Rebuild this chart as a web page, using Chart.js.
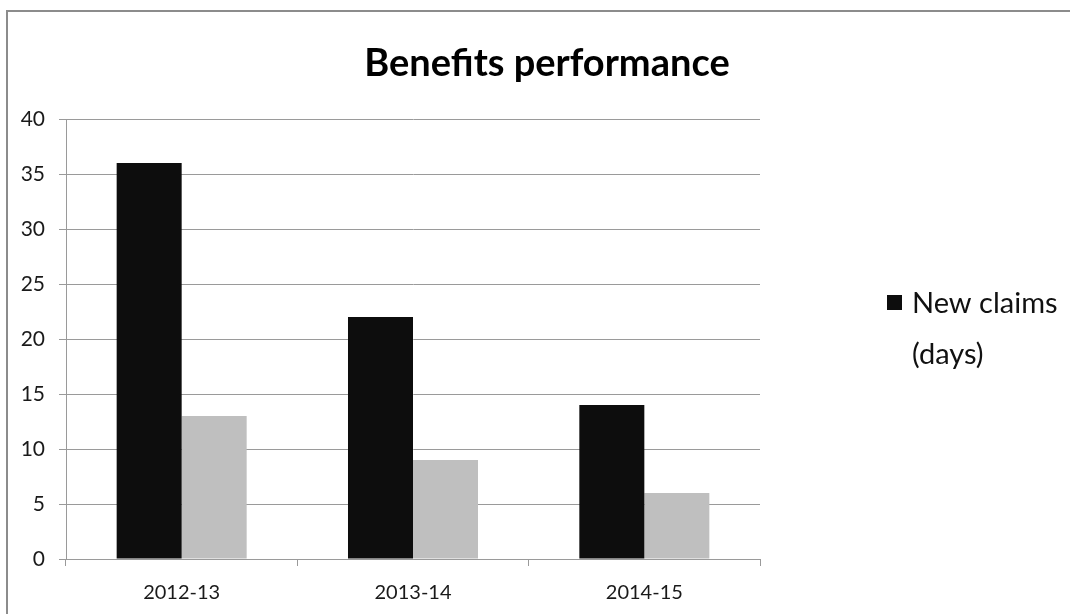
<!DOCTYPE html>
<html>
<head>
<meta charset="utf-8">
<title>Benefits performance</title>
<script src="https://cdn.jsdelivr.net/npm/chart.js@4/dist/chart.umd.min.js"></script>
<style>
  html, body { margin: 0; padding: 0; background: #fff; }
</style>
</head>
<body>
<canvas id="chart" width="1070" height="614"></canvas>
<script>
const categories = ['2012-13', '2013-14', '2014-15'];
const newClaims = [36, 22, 14];
const otherSeries = [13, 9, 6];
const titleText = 'Benefits performance';
const legendLines = ['New claims', '(days)'];

const FONT = 'Lato, "Open Sans", sans-serif';
const GRID = '#9a9a9a';

// outer box of the chart object
const framePlugin = {
  id: 'frame',
  beforeDraw(chart) {
    const ctx = chart.ctx;
    ctx.save();
    ctx.strokeStyle = '#8c8c8c';
    ctx.lineWidth = 2;
    ctx.strokeRect(7, 11, 1100, 640);
    ctx.restore();
  }
};

// title + single legend entry, placed like the original
const textPlugin = {
  id: 'texts',
  afterDraw(chart) {
    const ctx = chart.ctx;
    ctx.save();
    ctx.fillStyle = '#000';
    ctx.font = 'bold 38px ' + FONT;
    ctx.textAlign = 'center';
    ctx.textBaseline = 'middle';
    ctx.fillText(titleText, 547, 64);

    const ds = chart.data.datasets[0];
    ctx.fillStyle = ds.backgroundColor;
    ctx.fillRect(887, 295, 15, 15);
    ctx.fillStyle = '#111';
    ctx.font = '29px ' + FONT;
    ctx.textAlign = 'left';
    ctx.textBaseline = 'alphabetic';
    ctx.fillText(legendLines[0], 912, 313);
    ctx.fillText(legendLines[1], 912, 364);
    ctx.restore();
  }
};

new Chart(document.getElementById('chart'), {
  type: 'bar',
  data: {
    labels: categories,
    datasets: [
      {
        label: 'New claims (days)',
        data: newClaims,
        backgroundColor: '#0d0d0d',
        categoryPercentage: 0.562,
        barPercentage: 1.0
      },
      {
        label: 'Other (days)',
        data: otherSeries,
        backgroundColor: '#bfbfbf',
        categoryPercentage: 0.562,
        barPercentage: 1.0
      }
    ]
  },
  options: {
    responsive: false,
    devicePixelRatio: 1,
    animation: false,
    layout: { padding: { top: 119, right: 310, left: 0, bottom: 0 } },
    plugins: {
      legend: { display: false },
      title: { display: false },
      tooltip: { enabled: false }
    },
    scales: {
      x: {
        grid: { offset: true, drawOnChartArea: false, color: GRID, tickLength: 7 },
        border: { color: GRID },
        ticks: { color: '#1a1a1a', font: { family: FONT, size: 20 }, padding: 15 },
        afterFit: (s) => { s.height = 55; }
      },
      y: {
        min: 0,
        max: 40,
        ticks: { stepSize: 5, color: '#1a1a1a', font: { family: FONT, size: 21 }, padding: 14 },
        grid: { color: GRID, tickLength: 7 },
        border: { color: GRID },
        afterFit: (s) => { s.width = 66; }
      }
    }
  },
  plugins: [framePlugin, textPlugin]
});
</script>
</body>
</html>
